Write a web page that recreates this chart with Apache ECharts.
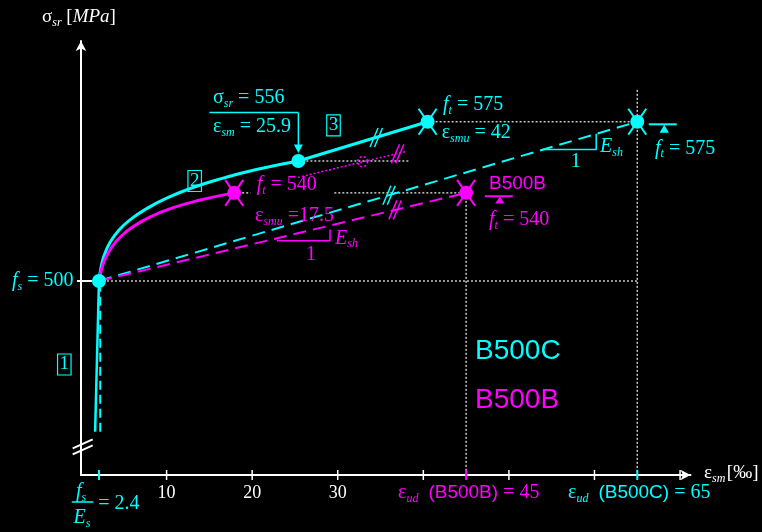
<!DOCTYPE html>
<html><head><meta charset="utf-8">
<script src="https://cdn.jsdelivr.net/npm/echarts/dist/echarts.min.js"></script>
<style>html,body{margin:0;padding:0;background:#000}#c{width:762px;height:532px}</style>
</head><body><div id="c"></div>
<script>
const CYAN = '#00ffff', MAG = '#ff00ff', GRAY = '#c8c8c8', WHITE = '#ffffff';
const SERIF = '"Liberation Serif","Times New Roman",serif';
const SANS = '"Liberation Sans",Arial,sans-serif';

// ---------------- data ----------------
const xTicks = [10, 20, 30, 40, 50, 60, 70];
const xTickLabels = [10, 20, 30];
const X_MIN = 0, X_MAX = 71.22, Y_MIN = 408.66, Y_MAX = 613.0;

const yieldPt = [2.1, 500];
const cyanCurveX = [2.1, 2.3, 2.7, 3.4, 4.4, 5.8, 7.6, 10.0, 13.0, 16.5, 20.5, 25.4];
const cyanCurveY = [500, 505.5, 512.0, 518.2, 523.8, 529.0, 533.9, 539.0, 543.9, 548.3, 552.5, 556.5];
const magentaCurveX = [2.1, 2.35, 2.85, 3.6, 4.7, 6.2, 8.1, 10.6, 13.8, 17.9];
const magentaCurveY = [500, 504.8, 510.6, 516.0, 521.2, 525.9, 530.2, 534.3, 538.0, 541.5];
const sigmaPt = [25.4, 556.5];
const ultimateC = [40.5, 575];
const udC = [65, 575];
const ultimateB = [17.9, 541.5];
const udB = [45, 541.5];
const elasticSolid = [[1.65, 429], [2.1, 500]];
const elasticDash = [[2.25, 429], [2.25, 497]];
const magentaExtension = [[25.35, 548.8], [38.1, 561.1]];
const hypotheticalPt = [32.9, 556.2];
const breaksOnLines = [[34.5, 567.6, 0], [37.0, 559.9, 1], [36.0, 540.4, 0], [36.7, 533.5, 1]];
const axisBreak = [0, 421.9];
const slopeC = [[54.0, 561.9], [60.2, 561.9], [60.2, 569.3]];
const slopeB = [[22.9, 519.0], [29.1, 519.0], [29.1, 524.3]];

const zip = (xs, ys) => xs.map((x, i) => [x, ys[i]]);

function seg(data, color, width, type, extra) {
  return Object.assign({
    type: 'line', data, symbol: 'none', showSymbol: false, silent: true,
    lineStyle: { color, width, type: type || 'solid' }, itemStyle: { color },
    z: 2, clip: false, animation: false
  }, extra || {});
}
function L(x1, y1, x2, y2, c, w, dash) {
  return { type: 'line', shape: { x1, y1, x2, y2 }, style: { stroke: c, lineWidth: w, lineDash: dash || null } };
}

const DOT = [2, 2], DASH = [13, 7];

const series = [
  seg(zip(cyanCurveX, cyanCurveY), CYAN, 3, 'solid', { smooth: 0.5, z: 3 }),
  seg([sigmaPt, ultimateC], CYAN, 3, 'solid', { z: 3 }),
  seg(zip(magentaCurveX, magentaCurveY), MAG, 3, 'solid', { smooth: 0.5, z: 3 }),
  seg([yieldPt, udC], CYAN, 2, DASH),
  seg([yieldPt, udB], MAG, 2, DASH),
  seg(elasticSolid, CYAN, 2.5),
  seg(elasticDash, CYAN, 2, [9, 5]),
  // dotted reference lines
  seg([yieldPt, [udC[0], yieldPt[1]]], GRAY, 1.5, DOT, { z: 1 }),
  seg([ultimateC, udC], GRAY, 1.5, DOT, { z: 1 }),
  seg([sigmaPt, [38.44, sigmaPt[1]]], GRAY, 1.5, DOT, { z: 1 }),
  seg([ultimateB, [19.8, ultimateB[1]]], GRAY, 1.5, DOT, { z: 1 }),
  seg([[29.6, udB[1]], udB], GRAY, 1.5, DOT, { z: 1 }),
  seg([udB, [udB[0], Y_MIN]], GRAY, 1.5, DOT, { z: 1 }),
  seg([[udC[0], 590], [udC[0], Y_MIN]], GRAY, 1.5, DOT, { z: 1 }),
  seg(magentaExtension, MAG, 1.5, DOT),
  seg(slopeC, CYAN, 1.5),
  seg(slopeB, MAG, 1.5),
  { type: 'scatter', data: [yieldPt, sigmaPt, ultimateC, udC], symbolSize: 14, itemStyle: { color: CYAN, opacity: 1 }, z: 6, silent: true, animation: false },
  { type: 'scatter', data: [ultimateB, udB], symbolSize: 14, itemStyle: { color: MAG, opacity: 1 }, z: 6, silent: true, animation: false },
  // stars
  { type: 'custom', z: 5, silent: true, animation: false,
    data: [[...ultimateC, 0], [...udC, 0], [...ultimateB, 1], [...udB, 1]],
    renderItem: (p, api) => {
      const c = api.coord([api.value(0), api.value(1)]);
      const col = api.value(2) === 0 ? CYAN : MAG;
      return { type: 'group', children: [
        L(c[0] - 9, c[1] - 13, c[0] + 9, c[1] + 13, col, 2),
        L(c[0] + 9, c[1] - 13, c[0] - 9, c[1] + 13, col, 2)] };
    } },
  // break marks on lines
  { type: 'custom', z: 5, silent: true, animation: false, data: breaksOnLines,
    renderItem: (p, api) => {
      const c = api.coord([api.value(0), api.value(1)]);
      const col = api.value(2) === 0 ? CYAN : MAG;
      return { type: 'group', children: [-2.2, 2.2].map(o =>
        L(c[0] + o - 4, c[1] + 9.5, c[0] + o + 4, c[1] - 9.5, col, 1.5)) };
    } },
  // axis break, axis ticks
  { type: 'custom', z: 7, silent: true, animation: false, data: [axisBreak],
    renderItem: (p, api) => {
      const c = api.coord([api.value(0), api.value(1)]);
      const cx = c[0] + 1.7;
      return { type: 'group', children: [-3, 3].map(o =>
        L(cx - 10, c[1] + o + 4.5, cx + 10, c[1] + o - 4.5, WHITE, 2)) };
    } },
  { type: 'custom', z: 7, silent: true, animation: false,
    data: xTicks.map(v => [v, 0]).concat([[yieldPt[0], 1], [udB[0], 2], [udC[0], 1]]),
    renderItem: (p, api) => {
      const c = api.coord([api.value(0), Y_MIN]);
      const k = api.value(1);
      const col = k === 0 ? WHITE : (k === 1 ? CYAN : MAG);
      return L(c[0], c[1] - 5, c[0], c[1] + 5, col, k === 0 ? 1.5 : 2);
    } },
  { type: 'custom', z: 2, silent: true, animation: false, data: [[X_MIN, yieldPt[1]]],
    renderItem: (p, api) => {
      const c = api.coord([api.value(0), api.value(1)]);
      return L(c[0] - 4, c[1], c[0] + 11, c[1], WHITE, 2);
    } },
  // callout arrow to sigma point
  { type: 'custom', z: 6, silent: true, animation: false, data: [sigmaPt],
    renderItem: (p, api) => {
      const c = api.coord([api.value(0), api.value(1)]);
      return { type: 'group', children: [
        L(c[0] - 89, c[1] - 48.4, c[0], c[1] - 48.4, CYAN, 1.5),
        L(c[0], c[1] - 48.4, c[0], c[1] - 15, CYAN, 1.5),
        { type: 'polygon', shape: { points: [[c[0] - 4.5, c[1] - 16.5], [c[0] + 4.5, c[1] - 16.5], [c[0], c[1] - 8]] }, style: { fill: CYAN } }
      ] };
    } },
  // ft markers (line + triangle)
  { type: 'custom', z: 6, silent: true, animation: false, data: [[...udC, 0], [...udB, 1]],
    renderItem: (p, api) => {
      const c = api.coord([api.value(0), api.value(1)]);
      const k = api.value(2);
      const col = k === 0 ? CYAN : MAG;
      const g = k === 0 ? { a: 11.5, b: 39.5, dy: 2.6, t: 27, tb: 11 } : { a: 18.7, b: 46.7, dy: 3.4, t: 33.7, tb: 10.7 };
      return { type: 'group', children: [
        L(c[0] + g.a, c[1] + g.dy, c[0] + g.b, c[1] + g.dy, col, 2),
        { type: 'polygon', shape: { points: [[c[0] + g.t - 4.7, c[1] + g.tb], [c[0] + g.t + 4.7, c[1] + g.tb], [c[0] + g.t, c[1] + g.dy + 0.5]] }, style: { fill: col } }
      ] };
    } },
  // hypothetical point (dashed circle)
  { type: 'custom', z: 6, silent: true, animation: false, data: [hypotheticalPt],
    renderItem: (p, api) => {
      const c = api.coord([api.value(0), api.value(1)]);
      return { type: 'circle', shape: { cx: c[0], cy: c[1], r: 5 }, style: { fill: null, stroke: MAG, lineWidth: 1.5, lineDash: [2, 2] } };
    } }
];

// ---------------- texts ----------------
function rich(fs, sub) {
  return {
    n: { fontFamily: SERIF, fontSize: fs, lineHeight: 24 },
    i: { fontFamily: SERIF, fontSize: fs, fontStyle: 'italic', lineHeight: 24 },
    s: { fontFamily: SERIF, fontSize: sub || 12, fontStyle: 'italic', lineHeight: 12, verticalAlign: 'bottom' },
    a: { fontFamily: SANS, fontSize: 19, lineHeight: 24 },
    t: { fontFamily: SERIF, fontSize: 6, lineHeight: 24 }
  };
}
function T(x, y, text, fill, opt) {
  opt = opt || {};
  return { type: 'text', x, y, z: 100, silent: true,
    style: { text, fill, rich: rich(opt.fs || 20, opt.sub), align: opt.align || 'left', verticalAlign: 'middle' } };
}
function box(t, x, y) {
  return { type: 'text', x, y, z: 100, silent: true,
    style: { text: t, fill: CYAN, fontFamily: SERIF, fontSize: 19, lineHeight: 20, align: 'center', verticalAlign: 'middle',
      borderColor: CYAN, borderWidth: 1.2, padding: [1, 2, 0, 2] } };
}
function big(x, y, t, fill) {
  return { type: 'text', x, y, z: 100, silent: true,
    style: { text: t, fill, fontFamily: SANS, fontSize: 28, align: 'left', verticalAlign: 'middle' } };
}

const graphic = [
  T(42, 17, '{n|σ}{s|sr}{n| [}{i|MPa}{n|]}', WHITE, { fs: 19 }),
  T(12, 281, '{i|f}{s|s}{n| = 500}', CYAN),
  box('1', 64.3, 364.5), box('2', 194.7, 181), box('3', 333.5, 125.3),
  T(213, 98, '{n|σ}{s|sr}{n| = 556}', CYAN),
  T(213, 127, '{n|ε}{s|sm}{n| = 25.9}', CYAN),
  T(443, 105, '{i|f}{s|t}{n| = 575}', CYAN),
  T(441.7, 133, '{n|ε}{s|smu}{n| = 42}', CYAN),
  T(600, 147, '{i|E}{s|sh}', CYAN),
  T(575.7, 162, '{n|1}', CYAN, { align: 'center' }),
  T(655, 148.3, '{i|f}{s|t}{n| = 575}', CYAN),
  T(489, 184, '{a|B500B}', MAG),
  T(489, 220, '{i|f}{s|t}{n| = 540}', MAG),
  T(256.7, 185, '{i|f}{s|t}{n| = 540}', MAG),
  T(255, 216, '{n|ε}{s|smu}{n| =17.5}', MAG),
  T(335, 238.3, '{i|E}{s|sh}', MAG),
  T(311, 255, '{n|1}', MAG, { align: 'center' }),
  big(475, 351.7, 'B500C', CYAN),
  big(475, 400, 'B500B', MAG),
  T(81, 492, '{i|f}{s|s}', CYAN, { align: 'center' }),
  T(82, 518, '{i|E}{s|s}', CYAN, { align: 'center' }),
  { type: 'line', z: 100, silent: true, shape: { x1: 71.7, y1: 502, x2: 93.3, y2: 502 }, style: { stroke: CYAN, lineWidth: 1.5 } },
  T(98.3, 503.3, '{n|= 2.4}', CYAN),
  T(398, 493, '{n|ε}{s|ud}{n|  }{a|(B500B)}{n| = 45}', MAG),
  T(568, 493, '{n|ε}{s|ud}{n|  }{a|(B500C)}{n| = 65}', CYAN),
  T(704, 473, '{n|ε}{s|sm}{t| }{n|[‰]}', WHITE, { fs: 19 })
];

const chart = echarts.init(document.getElementById('c'), null, { renderer: 'canvas' });
chart.setOption({
  backgroundColor: '#000000',
  animation: false,
  grid: { left: 81, right: 71.5, top: 41, bottom: 57, containLabel: false, outerBoundsMode: 'none' },
  xAxis: {
    type: 'value', min: X_MIN, max: X_MAX, interval: 10,
    axisLine: { show: true, lineStyle: { color: WHITE, width: 2 }, symbol: ['none', 'arrow'], symbolSize: [8, 10] },
    axisTick: { show: false }, splitLine: { show: false },
    axisLabel: { color: WHITE, fontFamily: SERIF, fontSize: 18, margin: 9,
      formatter: v => (xTickLabels.indexOf(v) >= 0 ? String(v) : '') }
  },
  yAxis: {
    type: 'value', min: Y_MIN, max: Y_MAX,
    axisLine: { show: true, lineStyle: { color: WHITE, width: 2 }, symbol: ['none', 'arrow'], symbolSize: [8, 10] },
    axisTick: { show: false }, splitLine: { show: false }, axisLabel: { show: false }
  },
  series,
  graphic
});
</script>
</body></html>
